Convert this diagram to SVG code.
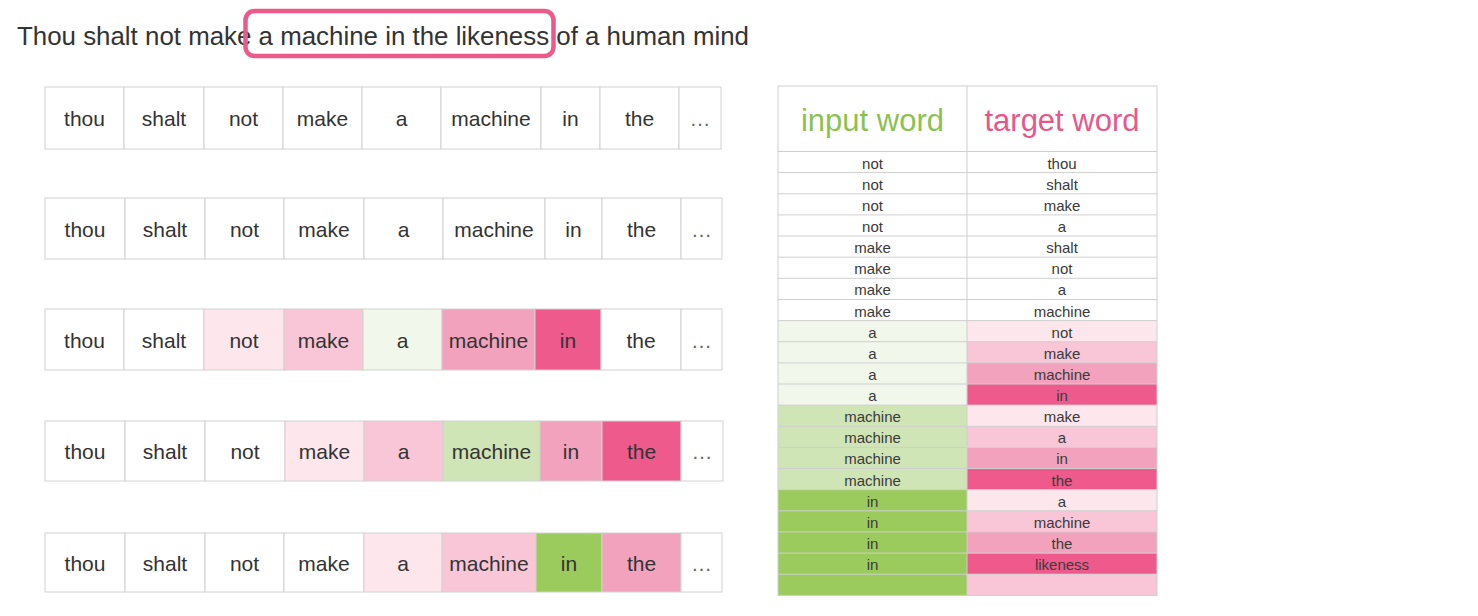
<svg xmlns="http://www.w3.org/2000/svg" width="1478" height="616" viewBox="0 0 1478 616">
<style>
.bg{fill:#ffffff}
.cell{stroke:#d2d2d2;stroke-width:1}
.w{fill:#ffffff}
.p1{fill:#fde7ed}.p2{fill:#f8c6d7}.p3{fill:#f2a2bd}.p4{fill:#ee5a8c}
.g1{fill:#f1f7eb}.g2{fill:#d0e5b5}.g3{fill:#9ccb5d}
.wt{font-family:"Liberation Sans",Arial,sans-serif;font-size:21px;fill:#333333;text-anchor:middle}
.dots{fill:#666666}
.tt{font-family:"Liberation Sans",Arial,sans-serif;font-size:15px;fill:#3a3a3a;text-anchor:middle}
.hd{font-family:"Liberation Sans",Arial,sans-serif;font-size:31px;text-anchor:middle}
.tl{stroke:#cfcfcf;stroke-width:1}
</style>
<rect class="bg" x="0" y="0" width="1478" height="616"/>

<g id="title">
<text x="17" y="45" font-family="'Liberation Sans',Arial,sans-serif" font-size="26" fill="#333333" textLength="732" lengthAdjust="spacingAndGlyphs">Thou shalt not make a machine in the likeness of a human mind</text>
<rect x="245.5" y="11" width="308" height="45" rx="9" ry="9" fill="none" stroke="#ec5a8b" stroke-width="4.5"/>
</g>

<g id="row1">
<rect class="cell w" x="45" y="87" width="79" height="62"/>
<rect class="cell w" x="124" y="87" width="80" height="62"/>
<rect class="cell w" x="204" y="87" width="79" height="62"/>
<rect class="cell w" x="283" y="87" width="79" height="62"/>
<rect class="cell w" x="362" y="87" width="79" height="62"/>
<rect class="cell w" x="441" y="87" width="100" height="62"/>
<rect class="cell w" x="541" y="87" width="59" height="62"/>
<rect class="cell w" x="600" y="87" width="79" height="62"/>
<rect class="cell w" x="679" y="87" width="42" height="62"/>
<text class="wt" x="84.5" y="126">thou</text>
<text class="wt" x="164" y="126">shalt</text>
<text class="wt" x="243.5" y="126">not</text>
<text class="wt" x="322.5" y="126">make</text>
<text class="wt" x="401.5" y="126">a</text>
<text class="wt" x="491" y="126">machine</text>
<text class="wt" x="570.5" y="126">in</text>
<text class="wt" x="639.5" y="126">the</text>
<text class="wt dots" x="700" y="126">…</text>
</g>

<g id="row2">
<rect class="cell w" x="45" y="198" width="80" height="61"/>
<rect class="cell w" x="125" y="198" width="80" height="61"/>
<rect class="cell w" x="205" y="198" width="79" height="61"/>
<rect class="cell w" x="284" y="198" width="80" height="61"/>
<rect class="cell w" x="364" y="198" width="79" height="61"/>
<rect class="cell w" x="443" y="198" width="102" height="61"/>
<rect class="cell w" x="545" y="198" width="57" height="61"/>
<rect class="cell w" x="602" y="198" width="79" height="61"/>
<rect class="cell w" x="681" y="198" width="41" height="61"/>
<text class="wt" x="85" y="236.5">thou</text>
<text class="wt" x="165" y="236.5">shalt</text>
<text class="wt" x="244.5" y="236.5">not</text>
<text class="wt" x="324" y="236.5">make</text>
<text class="wt" x="403.5" y="236.5">a</text>
<text class="wt" x="494" y="236.5">machine</text>
<text class="wt" x="573.5" y="236.5">in</text>
<text class="wt" x="641.5" y="236.5">the</text>
<text class="wt dots" x="701.5" y="236.5">…</text>
</g>

<g id="row3">
<rect class="cell w" x="45" y="309" width="79" height="61"/>
<rect class="cell w" x="124" y="309" width="80" height="61"/>
<rect class="cell p1" x="204" y="309" width="80" height="61"/>
<rect class="cell p2" x="284" y="309" width="79" height="61"/>
<rect class="cell g1" x="363" y="309" width="79" height="61"/>
<rect class="cell p3" x="442" y="309" width="93" height="61"/>
<rect class="cell p4" x="535" y="309" width="66" height="61"/>
<rect class="cell w" x="601" y="309" width="80" height="61"/>
<rect class="cell w" x="681" y="309" width="41" height="61"/>
<text class="wt" x="84.5" y="347.5">thou</text>
<text class="wt" x="164" y="347.5">shalt</text>
<text class="wt" x="244" y="347.5">not</text>
<text class="wt" x="323.5" y="347.5">make</text>
<text class="wt" x="402.5" y="347.5">a</text>
<text class="wt" x="488.5" y="347.5">machine</text>
<text class="wt" x="568" y="347.5">in</text>
<text class="wt" x="641" y="347.5">the</text>
<text class="wt dots" x="701.5" y="347.5">…</text>
</g>

<g id="row4">
<rect class="cell w" x="45" y="421" width="80" height="60"/>
<rect class="cell w" x="125" y="421" width="80" height="60"/>
<rect class="cell w" x="205" y="421" width="80" height="60"/>
<rect class="cell p1" x="285" y="421" width="79" height="60"/>
<rect class="cell p2" x="364" y="421" width="79" height="60"/>
<rect class="cell g2" x="443" y="421" width="97" height="60"/>
<rect class="cell p3" x="540" y="421" width="62" height="60"/>
<rect class="cell p4" x="602" y="421" width="79" height="60"/>
<rect class="cell w" x="681" y="421" width="42" height="60"/>
<text class="wt" x="85" y="459">thou</text>
<text class="wt" x="165" y="459">shalt</text>
<text class="wt" x="245" y="459">not</text>
<text class="wt" x="324.5" y="459">make</text>
<text class="wt" x="403.5" y="459">a</text>
<text class="wt" x="491.5" y="459">machine</text>
<text class="wt" x="571" y="459">in</text>
<text class="wt" x="641.5" y="459">the</text>
<text class="wt dots" x="702" y="459">…</text>
</g>

<g id="row5">
<rect class="cell w" x="45" y="533" width="80" height="59"/>
<rect class="cell w" x="125" y="533" width="80" height="59"/>
<rect class="cell w" x="205" y="533" width="79" height="59"/>
<rect class="cell w" x="284" y="533" width="80" height="59"/>
<rect class="cell p1" x="364" y="533" width="78" height="59"/>
<rect class="cell p2" x="442" y="533" width="94" height="59"/>
<rect class="cell g3" x="536" y="533" width="66" height="59"/>
<rect class="cell p3" x="602" y="533" width="79" height="59"/>
<rect class="cell w" x="681" y="533" width="41" height="59"/>
<text class="wt" x="85" y="570.5">thou</text>
<text class="wt" x="165" y="570.5">shalt</text>
<text class="wt" x="244.5" y="570.5">not</text>
<text class="wt" x="324" y="570.5">make</text>
<text class="wt" x="403" y="570.5">a</text>
<text class="wt" x="489" y="570.5">machine</text>
<text class="wt" x="569" y="570.5">in</text>
<text class="wt" x="641.5" y="570.5">the</text>
<text class="wt dots" x="701.5" y="570.5">…</text>
</g>

<g id="table">
<g id="table-fills">
<rect class="g1" x="778" y="320.6" width="189" height="84.5"/>
<rect class="g2" x="778" y="405.1" width="189" height="84.6"/>
<rect class="g3" x="778" y="489.7" width="189" height="105.7"/>
<rect class="p1" x="967" y="320.6" width="190" height="21.1"/>
<rect class="p2" x="967" y="341.7" width="190" height="21.2"/>
<rect class="p3" x="967" y="362.9" width="190" height="21.1"/>
<rect class="p4" x="967" y="384.0" width="190" height="21.1"/>
<rect class="p1" x="967" y="405.1" width="190" height="21.2"/>
<rect class="p2" x="967" y="426.3" width="190" height="21.1"/>
<rect class="p3" x="967" y="447.4" width="190" height="21.1"/>
<rect class="p4" x="967" y="468.5" width="190" height="21.2"/>
<rect class="p1" x="967" y="489.7" width="190" height="21.1"/>
<rect class="p2" x="967" y="510.8" width="190" height="21.1"/>
<rect class="p3" x="967" y="531.9" width="190" height="21.2"/>
<rect class="p4" x="967" y="553.1" width="190" height="21.1"/>
<rect class="p2" x="967" y="574.2" width="190" height="21.2"/>
</g>
<g id="table-lines">
<rect x="778" y="86" width="379" height="509.4" fill="none" class="tl"/>
<line class="tl" x1="967" y1="86" x2="967" y2="595.4"/>
<line class="tl" x1="778" y1="151.5" x2="1157" y2="151.5"/>
<line class="tl" x1="778" y1="172.6" x2="1157" y2="172.6"/>
<line class="tl" x1="778" y1="193.8" x2="1157" y2="193.8"/>
<line class="tl" x1="778" y1="214.9" x2="1157" y2="214.9"/>
<line class="tl" x1="778" y1="236.0" x2="1157" y2="236.0"/>
<line class="tl" x1="778" y1="257.2" x2="1157" y2="257.2"/>
<line class="tl" x1="778" y1="278.3" x2="1157" y2="278.3"/>
<line class="tl" x1="778" y1="299.5" x2="1157" y2="299.5"/>
<line class="tl" x1="778" y1="320.6" x2="1157" y2="320.6"/>
<line class="tl" x1="778" y1="341.7" x2="1157" y2="341.7"/>
<line class="tl" x1="778" y1="362.9" x2="1157" y2="362.9"/>
<line class="tl" x1="778" y1="384.0" x2="1157" y2="384.0"/>
<line class="tl" x1="778" y1="405.1" x2="1157" y2="405.1"/>
<line class="tl" x1="778" y1="426.3" x2="1157" y2="426.3"/>
<line class="tl" x1="778" y1="447.4" x2="1157" y2="447.4"/>
<line class="tl" x1="778" y1="468.5" x2="1157" y2="468.5"/>
<line class="tl" x1="778" y1="489.7" x2="1157" y2="489.7"/>
<line class="tl" x1="778" y1="510.8" x2="1157" y2="510.8"/>
<line class="tl" x1="778" y1="531.9" x2="1157" y2="531.9"/>
<line class="tl" x1="778" y1="553.1" x2="1157" y2="553.1"/>
<line class="tl" x1="778" y1="574.2" x2="1157" y2="574.2"/>
</g>
<g id="table-header">
<text class="hd" x="872.5" y="131" fill="#8cc152">input word</text>
<text class="hd" x="1062" y="131" fill="#e9578a">target word</text>
</g>
<g id="table-text">
<text class="tt" x="872.5" y="168.5">not</text><text class="tt" x="1062" y="168.5">thou</text>
<text class="tt" x="872.5" y="189.6">not</text><text class="tt" x="1062" y="189.6">shalt</text>
<text class="tt" x="872.5" y="210.8">not</text><text class="tt" x="1062" y="210.8">make</text>
<text class="tt" x="872.5" y="231.9">not</text><text class="tt" x="1062" y="231.9">a</text>
<text class="tt" x="872.5" y="253.0">make</text><text class="tt" x="1062" y="253.0">shalt</text>
<text class="tt" x="872.5" y="274.2">make</text><text class="tt" x="1062" y="274.2">not</text>
<text class="tt" x="872.5" y="295.3">make</text><text class="tt" x="1062" y="295.3">a</text>
<text class="tt" x="872.5" y="316.5">make</text><text class="tt" x="1062" y="316.5">machine</text>
<text class="tt" x="872.5" y="337.6">a</text><text class="tt" x="1062" y="337.6">not</text>
<text class="tt" x="872.5" y="358.7">a</text><text class="tt" x="1062" y="358.7">make</text>
<text class="tt" x="872.5" y="379.9">a</text><text class="tt" x="1062" y="379.9">machine</text>
<text class="tt" x="872.5" y="401.0">a</text><text class="tt" x="1062" y="401.0">in</text>
<text class="tt" x="872.5" y="422.1">machine</text><text class="tt" x="1062" y="422.1">make</text>
<text class="tt" x="872.5" y="443.3">machine</text><text class="tt" x="1062" y="443.3">a</text>
<text class="tt" x="872.5" y="464.4">machine</text><text class="tt" x="1062" y="464.4">in</text>
<text class="tt" x="872.5" y="485.5">machine</text><text class="tt" x="1062" y="485.5">the</text>
<text class="tt" x="872.5" y="506.7">in</text><text class="tt" x="1062" y="506.7">a</text>
<text class="tt" x="872.5" y="527.8">in</text><text class="tt" x="1062" y="527.8">machine</text>
<text class="tt" x="872.5" y="548.9">in</text><text class="tt" x="1062" y="548.9">the</text>
<text class="tt" x="872.5" y="570.1">in</text><text class="tt" x="1062" y="570.1">likeness</text>
</g>
</g>
</svg>
